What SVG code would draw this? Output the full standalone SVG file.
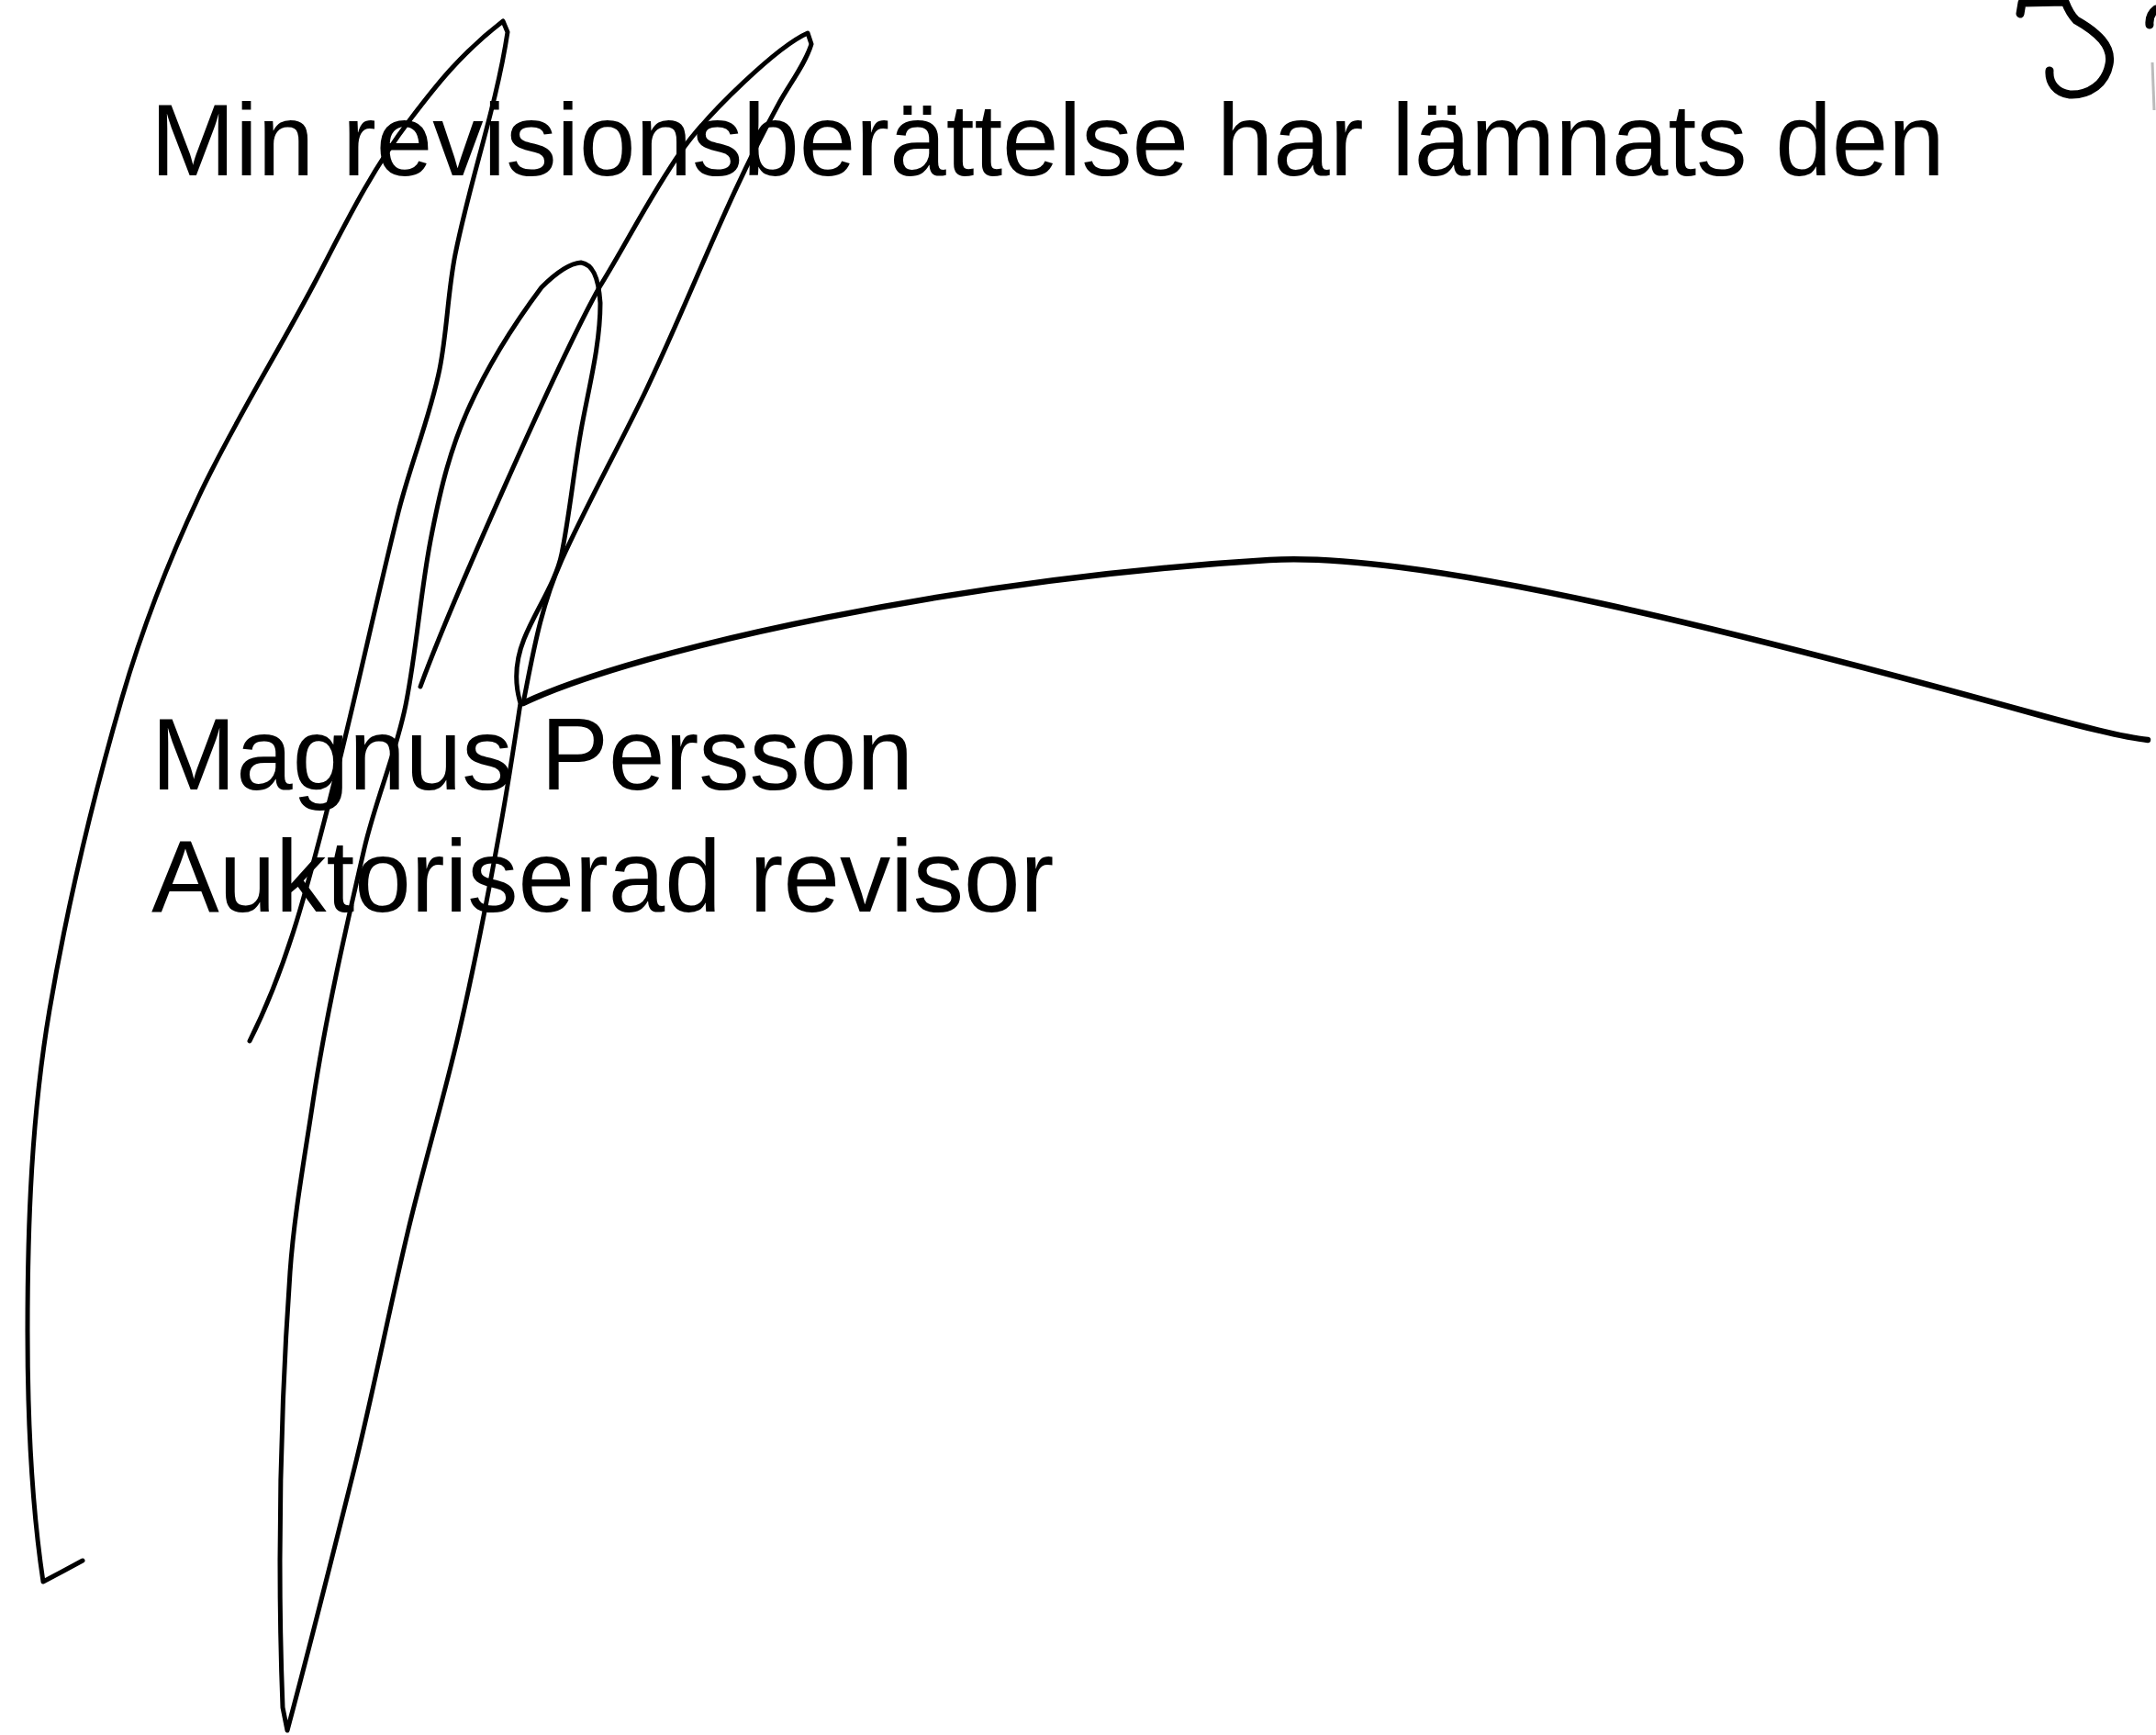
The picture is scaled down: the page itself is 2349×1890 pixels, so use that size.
<svg xmlns="http://www.w3.org/2000/svg" width="2349" height="1890" viewBox="0 0 2349 1890">
<style>
.t{font-family:"Liberation Sans",Arial,sans-serif;font-size:110.6px;fill:#000}
.s{fill:none;stroke:#000;stroke-width:5;stroke-linecap:round;stroke-linejoin:round}
.h{stroke-width:6.5}
.m{fill:none;stroke:#000;stroke-width:9;stroke-linecap:round;stroke-linejoin:round}
</style>
<rect width="2349" height="1890" fill="#fff"/>
<g id="texts">
<text class="t" x="164" y="191">Min revisionsberättelse har lämnats den</text>
<text class="t" x="165" y="860">Magnus Persson</text>
<text class="t" x="165" y="993">Auktoriserad revisor</text>
</g>
<g id="signature">
<path id="stroke-a" class="s" d="M90,1700 Q68,1712 47,1723 C33.3,1632 30,1541 30,1450 C30,1333.3 34.2,1216.7 54,1100 C73.3,986.7 100.1,873.3 133,760 C154.3,686.7 182.5,613.3 217,540 C254.6,460 305.4,380 347,300 C376.5,243.3 403.9,186.7 447,130 C474.1,94.3 501.6,58.7 548,23 L553,35 C540.9,115.7 512.1,196.3 496,277 C487.7,318.7 487.3,360.3 479,402 C468.6,454 447,506 434,558 C407.2,665.3 384.9,772.7 357,880 C335,964.7 314.4,1049.3 272,1134"/>
<path id="stroke-b" class="s" d="M458,748 C490,660 610,390 653,313 C683.6,263.7 707.5,214.3 742,165 C772.1,122 848,50 880,36 L884,48 C877.6,69.3 860.7,90.7 849,112 C790.9,217.7 752.7,323.3 702,429 C673,489.3 639.1,549.7 612,610 C588.6,662 580.4,714 570,766"/>
<path id="stroke-line" class="s h" d="M570,766 C700,705 1050,630 1383,610 C1550,600 1900,690 2226,780 C2270,792 2320,804 2340,806"/>
<path id="stroke-v" class="s" d="M567,766 C560.2,811.3 553.2,856.7 545,902 C531.6,976.3 517.1,1050.7 500,1125 C483.6,1196.3 462.1,1267.7 445,1339 C423.5,1428.7 406.4,1518.3 384,1608 C360.9,1700.3 337.9,1792.7 313,1885 L308,1860 C305.9,1806.7 305,1753.3 305,1700 C305,1595.3 308.7,1490.7 316,1386 C320.3,1324 331.7,1262 341,1200 C354.8,1108 375.8,1016 397,924 C409,872 431.6,820 442,768 C453.9,708.3 457.7,648.7 469,589 C478.1,541.3 488.5,493.7 510,446 C529.9,401.7 556.8,357.3 590,313 C605,298 620,287 633,286 C645,288 652,300 654,330 C654,376.3 641.3,422.7 633,469 C625,513.7 620.9,558.3 612,603 C605.8,634 583.4,665 571,696 C561.7,719.3 560,742.7 567,766"/>
</g>
<g id="page-mark">
<path class="m" d="M2201,15 L2203,3 L2250,2 Q2255,15 2262,22 C2285,35 2302,50 2298,70 C2294,92 2275,104 2255,103 C2240,101 2232,90 2233,77"/>
<path class="m" d="M2349,10 Q2341,16 2342,27"/>
<path fill="none" stroke="#bbb" stroke-width="3" d="M2345,68 L2347,120"/>
</g>
</svg>
